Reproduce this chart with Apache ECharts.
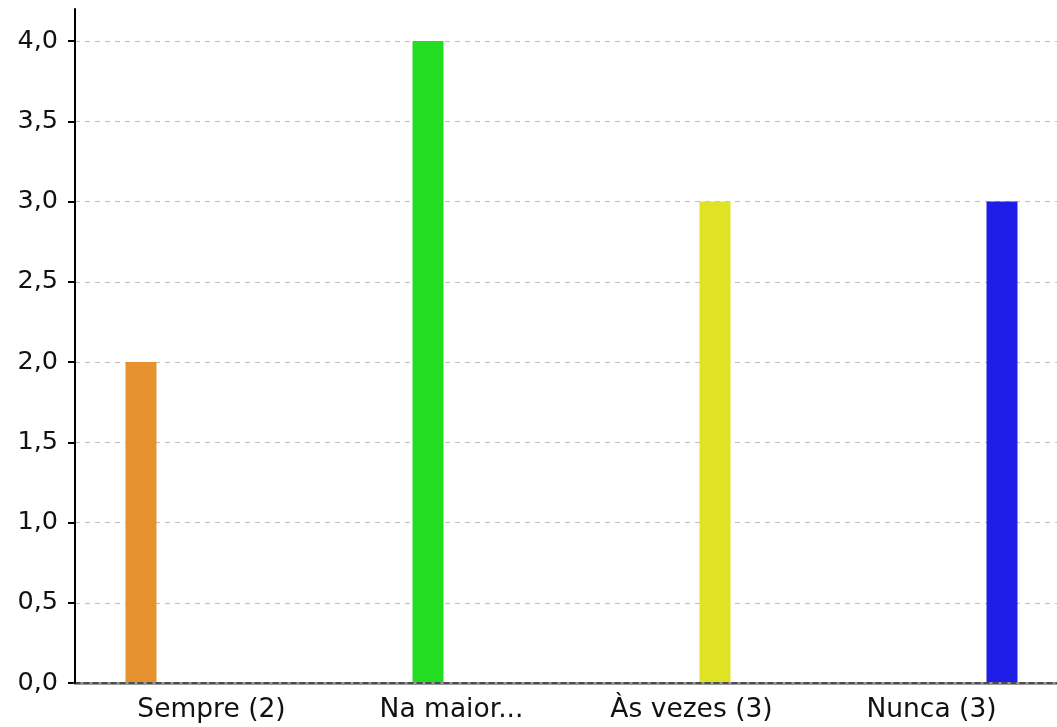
<!DOCTYPE html>
<html>
<head>
<meta charset="utf-8">
<script src="https://cdn.jsdelivr.net/npm/echarts@6/dist/echarts.min.js"></script>
<style>
html,body{margin:0;padding:0;background:#fff;}
#chart{width:1057px;height:727px;}
</style>
</head>
<body>
<div id="chart"></div>
<script>
var categories = ['Sempre (2)', 'Na maior...', 'Às vezes (3)', 'Nunca (3)'];
var values = [2, 4, 3, 3];
var colors = ['#E6922E', '#22DD22', '#E0E324', '#1E1EE8'];
var yTicks = [0, 0.5, 1.0, 1.5, 2.0, 2.5, 3.0, 3.5, 4.0];

var FONT = 'DejaVu Sans';
var series = categories.map(function (c, i) {
  var d = categories.map(function (_, j) { return j === i ? values[i] : null; });
  return {
    type: 'bar', name: c, xAxisIndex: 2, yAxisIndex: 2,
    data: d, barWidth: 31, barGap: '51.6%',
    itemStyle: { color: colors[i] }, z: 2
  };
});

var option = {
  animation: false,
  backgroundColor: '#fff',
  grid: [
    { left: 75, right: 0, top: 9, bottom: 44 },
    { left: 75, right: 0, top: 41, bottom: 44 },
    { left: 91.5, right: 5.5, top: 41, bottom: 44 }
  ],
  xAxis: [
    { gridIndex: 0, type: 'category', data: categories, z: 4,
      axisLine: { show: true, lineStyle: { color: '#9a9a9a', width: 3 } },
      axisTick: { show: false }, axisLabel: { show: false }, splitLine: { show: false } },
    { gridIndex: 1, type: 'category', data: categories, z: 5,
      axisLine: { show: true, lineStyle: { color: '#333', width: 1.5, type: [5, 4] } },
      axisTick: { show: false }, axisLabel: { show: false }, splitLine: { show: false } },
    { gridIndex: 2, type: 'category', data: categories,
      axisLine: { show: false }, axisTick: { show: false },
      axisLabel: { show: true, color: '#111', fontFamily: FONT, fontSize: 26.5, margin: 14, interval: 0 } }
  ],
  yAxis: [
    { gridIndex: 0, type: 'value', min: 0, max: 4.2, z: 6,
      axisLine: { show: true, lineStyle: { color: '#000', width: 2 } },
      axisTick: { show: false }, axisLabel: { show: false }, splitLine: { show: false } },
    { gridIndex: 1, type: 'value', min: yTicks[0], max: yTicks[yTicks.length - 1], interval: 0.5,
      axisLine: { show: false },
      axisTick: { show: true, length: 7, lineStyle: { color: '#000', width: 2 } },
      axisLabel: { color: '#111', fontFamily: FONT, fontSize: 25.5, margin: 17,
        formatter: function (v) { return v.toFixed(1).replace('.', ','); } },
      splitLine: { show: true, lineStyle: { color: '#c4c4c4', type: [5, 5], width: 1.2 } } },
    { gridIndex: 2, type: 'value', min: 0, max: 4, show: false }
  ],
  series: series
};

var chart = echarts.init(document.getElementById('chart'), null, { renderer: 'canvas' });
chart.setOption(option);
</script>
</body>
</html>
